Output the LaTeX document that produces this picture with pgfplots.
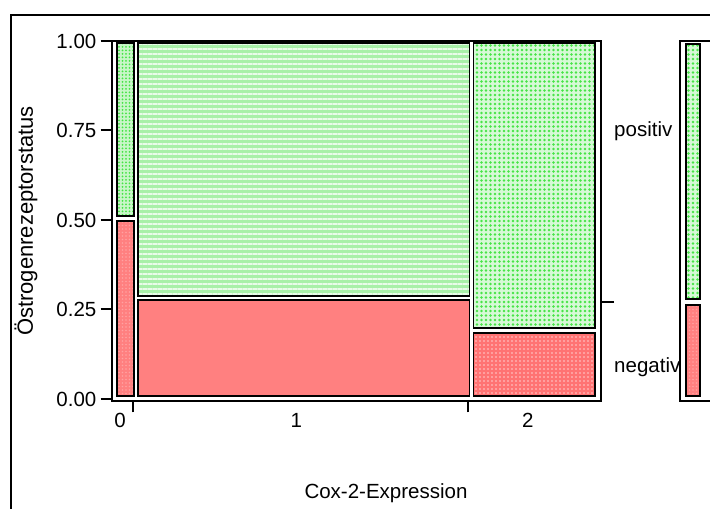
\documentclass[border=0pt]{standalone}
\usepackage{fontspec}
\setmainfont{Liberation Sans}
\usepackage{pgfplots}
\pgfplotsset{compat=1.18}
\usetikzlibrary{patterns.meta}

\definecolor{negred}{RGB}{255,128,128}
\definecolor{posgreen}{RGB}{168,240,168}
\definecolor{posgreenlight}{RGB}{214,249,214}
\definecolor{dotgreen}{RGB}{70,228,70}
\definecolor{dotred}{RGB}{255,176,176}

% mosaic cells: one rectangle per level and category
\pgfplotsset{
  cell/.style={draw=black, line width=1.5bp},
  cell pos solid/.style={cell, fill=posgreen,
     postaction={pattern={Lines[angle=0,distance=5bp,line width=1.2bp]}, pattern color=white!75!posgreen}},
  cell pos dots/.style={cell, fill=posgreenlight,
     postaction={pattern={Dots[distance=4.5bp,radius=1.4bp]}, pattern color=dotgreen}},
  cell pos fine/.style={cell, fill=posgreenlight!70!posgreen,
     postaction={pattern={Dots[distance=3.5bp,radius=1bp]}, pattern color=dotgreen}},
  cell neg solid/.style={cell, fill=negred},
  cell neg dots/.style={cell, fill=negred!90!red,
     postaction={pattern={Dots[distance=4bp,radius=1.2bp]}, pattern color=dotred}},
  cell neg fine/.style={cell, fill=negred,
     postaction={pattern={Dots[distance=3.5bp,radius=0.8bp]}, pattern color=dotred!70!negred}},
}

\begin{document}
\begin{tikzpicture}[x=1bp, y=1bp, font=\fontsize{20.5bp}{24bp}\selectfont]
\useasboundingbox (0,0) rectangle (710,509);

% outer frame
\draw[line width=2bp] (11,-10) -- (11,494) -- (730,494);

% category labels on the right
\node[anchor=west, inner sep=0pt] at (614,378) {positiv};
\node[anchor=west, inner sep=0pt] at (614,142) {negativ};

% axis titles
\node[rotate=90, font=\fontsize{22bp}{26bp}\selectfont] at (26,288) {Östrogenrezeptorstatus};
\node at (386,16) {Cox-2-Expression};

% main mosaic: column shares 0.0437 / 0.6958 / 0.2605
\begin{axis}[
  at={(112bp,108bp)}, anchor=south west,
  scale only axis, width=489bp, height=360bp,
  xmin=0, xmax=1.01455, ymin=-0.0056, ymax=1,
  axis line style={line width=2.5bp},
  tick align=outside, tick pos=left,
  major tick length=11.5bp,
  every tick/.style={black, line width=2bp},
  xtick={0.0437,0.7395}, xticklabels={},
  extra x ticks={0.0166,0.3825,0.8628},
  extra x tick labels={0,1,2},
  extra x tick style={major tick length=0pt, xticklabel style={yshift=-9bp}},
  ytick={0,0.25,0.5,0.75,1},
  yticklabels={0.00,0.25,0.50,0.75,1.00},
  yticklabel style={inner sep=4bp},
]
% category 0
\addplot[cell neg fine] coordinates {(0.0104,0.0084) (0.0457,0.0084) (0.0457,0.497) (0.0104,0.497)} -- cycle;
\addplot[cell pos fine] coordinates {(0.0104,0.511) (0.0457,0.511) (0.0457,0.9944) (0.0104,0.9944)} -- cycle;
% category 1
\addplot[cell neg solid] coordinates {(0.0541,0.0084) (0.7415,0.0084) (0.7415,0.277) (0.0541,0.277)} -- cycle;
\addplot[cell pos solid] coordinates {(0.0541,0.288) (0.7415,0.288) (0.7415,0.9944) (0.0541,0.9944)} -- cycle;
% category 2
\addplot[cell neg dots] coordinates {(0.7499,0.0084) (1.002,0.0084) (1.002,0.184) (0.7499,0.184)} -- cycle;
\addplot[cell pos dots] coordinates {(0.7499,0.198) (1.002,0.198) (1.002,0.9944) (0.7499,0.9944)} -- cycle;
\end{axis}

% overall split marker on the right side
\begin{axis}[
  at={(112bp,108bp)}, anchor=south west,
  scale only axis, width=489bp, height=360bp,
  xmin=0, xmax=1.01455, ymin=-0.0056, ymax=1,
  axis x line=none, axis y line*=right,
  axis line style={line width=2.5bp},
  tick align=outside, major tick length=13bp,
  every tick/.style={black, line width=2bp},
  ytick={0.271}, yticklabels={},
]
\addplot[draw=none] coordinates {(0,0)};
\end{axis}

% marginal bar of all observations
\begin{axis}[
  at={(680bp,108bp)}, anchor=south west,
  scale only axis, width=48bp, height=360bp,
  xmin=0, xmax=48, ymin=-0.0056, ymax=1,
  axis background/.style={fill=white},
  axis line style={line width=2.5bp},
  xtick=\empty, ytick=\empty,
]
\addplot[cell neg fine] coordinates {(6,0.0084) (20,0.0084) (20,0.263) (6,0.263)} -- cycle;
\addplot[cell pos dots] coordinates {(6,0.279) (20,0.279) (20,0.992) (6,0.992)} -- cycle;
\end{axis}
\end{tikzpicture}
\end{document}
